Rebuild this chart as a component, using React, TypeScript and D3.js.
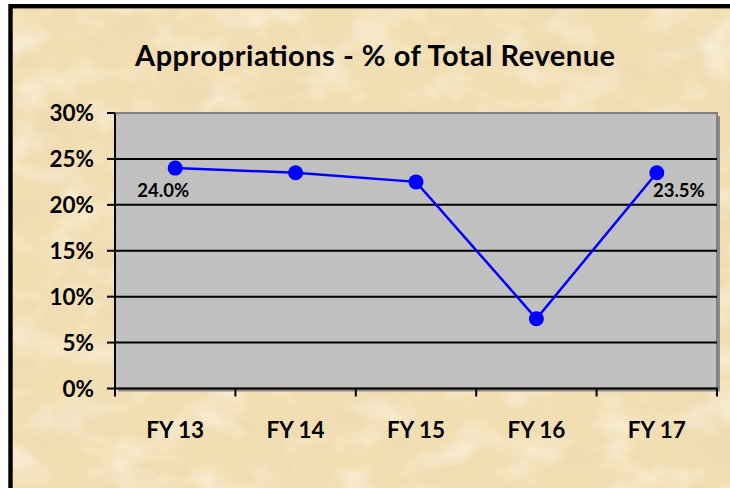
import React from "react";
import * as d3 from "d3";

const categories = ["FY 13", "FY 14", "FY 15", "FY 16", "FY 17"];
const values = [24.0, 23.5, 22.5, 7.6, 23.5];
const yTicks = [0, 5, 10, 15, 20, 25, 30];
const labelled = [
  { index: 0, text: "24.0%", dx: -12, dy: 29 },
  { index: 4, text: "23.5%", dx: 22, dy: 24 },
];
const title = "Appropriations - % of Total Revenue";

const W = 730;
const H = 488;
const plot = { left: 115, right: 717, top: 113, bottom: 388.5 };
const FONT = "Lato, 'Open Sans', sans-serif";

export default function App() {
  const x = d3
    .scaleBand<string>()
    .domain(categories)
    .range([plot.left, plot.right])
    .padding(0);
  const y = d3.scaleLinear().domain([0, 30]).range([plot.bottom, plot.top]);
  const cx = (c: string) => (x(c) as number) + x.bandwidth() / 2;
  const line = d3
    .line<number>()
    .x((_, i) => cx(categories[i]))
    .y((d) => y(d));
  const boundaries = categories.map((c) => x(c) as number).concat([plot.right]);

  return (
    <div style={{ position: "absolute", left: 0, top: 0 }}>
      <svg width={W} height={H} style={{ display: "block" }}>
        <defs>
          <filter id="paper" x="0" y="0" width="100%" height="100%">
            <feTurbulence type="fractalNoise" baseFrequency="0.012 0.025" numOctaves="4" seed="7" result="n" />
            <feColorMatrix
              in="n"
              type="matrix"
              values="0 0 0 0 0.78  0 0 0 0 0.66  0 0 0 0 0.45  0 0 0 1.6 -0.75"
            />
          </filter>
          <filter id="light" x="0" y="0" width="100%" height="100%">
            <feTurbulence type="fractalNoise" baseFrequency="0.02 0.03" numOctaves="3" seed="3" result="n" />
            <feColorMatrix
              in="n"
              type="matrix"
              values="0 0 0 0 1  0 0 0 0 0.97  0 0 0 0 0.9  0 0 0 1.8 -0.85"
            />
          </filter>
        </defs>
        <rect x={0} y={0} width={W} height={H} fill="#ffffff" />
        <rect x={10} y={6} width={W} height={H} fill="#F2DEB3" />
        <rect x={10} y={6} width={W} height={H} filter="url(#paper)" opacity={0.5} />
        <rect x={10} y={6} width={W} height={H} filter="url(#light)" opacity={0.7} />
        <rect x={10.5} y={6.2} width={W + 20} height={H + 20} fill="none" stroke="#000" strokeWidth={4.4} />

        <text
          x={375}
          y={66}
          textAnchor="middle"
          fontFamily={FONT}
          fontWeight="bold"
          fontSize={29}
          textLength={480}
          lengthAdjust="spacing"
          fill="#000"
        >
          {title}
        </text>

        {/* plot area with shadow */}
        <rect
          x={plot.left + 3}
          y={plot.top + 3}
          width={plot.right - plot.left}
          height={plot.bottom - plot.top}
          fill="#8c8c8c"
        />
        <rect
          x={plot.left}
          y={plot.top}
          width={plot.right - plot.left}
          height={plot.bottom - plot.top}
          fill="#C0C0C0"
          stroke="#808080"
          strokeWidth={2}
        />

        {yTicks
          .filter((t) => t > 0 && t < 30)
          .map((t) => (
            <line
              key={"g" + t}
              x1={plot.left}
              x2={plot.right}
              y1={y(t)}
              y2={y(t)}
              stroke="#000"
              strokeWidth={2}
            />
          ))}

        {/* y axis */}
        <line x1={plot.left} x2={plot.left} y1={plot.top} y2={plot.bottom} stroke="#000" strokeWidth={2} />
        {yTicks.map((t) => (
          <g key={"y" + t}>
            <line x1={plot.left - 8} x2={plot.left} y1={y(t)} y2={y(t)} stroke="#000" strokeWidth={2} />
            <text
              x={94}
              y={y(t)}
              dy="0.36em"
              textAnchor="end"
              fontFamily={FONT}
              fontWeight="bold"
              fontSize={22.5}
              fill="#000"
            >
              {t + "%"}
            </text>
          </g>
        ))}

        {/* x axis */}
        <line x1={plot.left - 1} x2={plot.right + 1} y1={plot.bottom} y2={plot.bottom} stroke="#000" strokeWidth={2} />
        {boundaries.map((b, i) => (
          <line key={"xt" + i} x1={b} x2={b} y1={plot.bottom} y2={plot.bottom + 8} stroke="#000" strokeWidth={2} />
        ))}
        {categories.map((c) => (
          <text
            key={c}
            x={cx(c)}
            y={438}
            textAnchor="middle"
            fontFamily={FONT}
            fontWeight="bold"
            fontSize={22.5}
            fill="#000"
          >
            {c}
          </text>
        ))}

        <path d={line(values) || ""} fill="none" stroke="#0000FF" strokeWidth={2.5} />
        {values.map((v, i) => (
          <circle key={"p" + i} cx={cx(categories[i])} cy={y(v)} r={7.5} fill="#0000FF" />
        ))}

        {labelled.map((l) => (
          <text
            key={l.text}
            x={cx(categories[l.index]) + l.dx}
            y={y(values[l.index]) + l.dy}
            textAnchor="middle"
            fontFamily={FONT}
            fontWeight="bold"
            fontSize={18.5}
            fill="#000"
          >
            {l.text}
          </text>
        ))}
      </svg>
    </div>
  );
}
